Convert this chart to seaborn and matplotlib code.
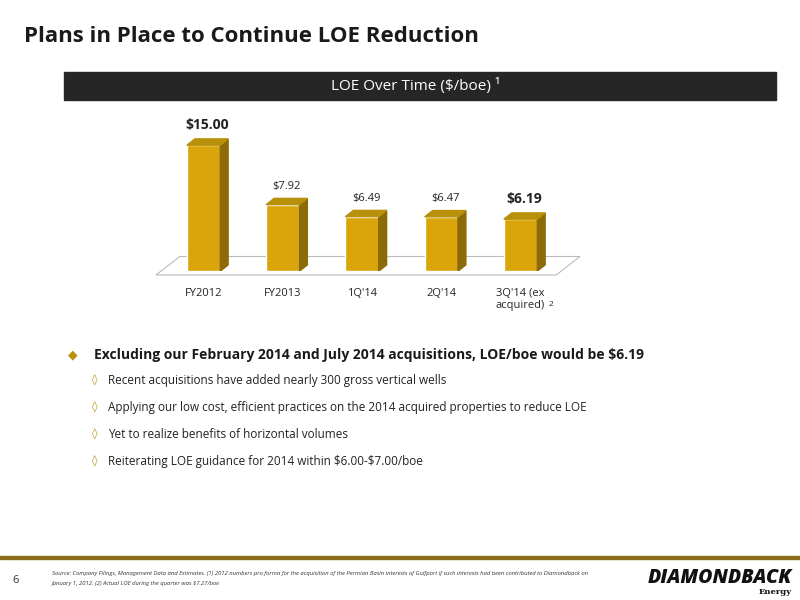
import matplotlib
matplotlib.use("Agg")
import matplotlib.pyplot as plt
import seaborn as sns
import pandas as pd
from matplotlib.patches import Polygon, Rectangle

categories = ["FY2012", "FY2013", "1Q'14", "2Q'14", "3Q'14 (ex\nacquired)"]
values = [15.00, 7.92, 6.49, 6.47, 6.19]
labels = ["$15.00", "$7.92", "$6.49", "$6.47", "$6.19"]

sns.set_theme(style="white")
plt.rcParams['font.family'] = ['Open Sans', 'DejaVu Sans']
plt.rcParams['text.parse_math'] = False
fig = plt.figure(figsize=(8, 6), dpi=100)

fig.text(0.03, 0.94, "Plans in Place to Continue LOE Reduction", fontsize=16, fontweight="bold", color="#1a1a1a", va="center")
fig.add_artist(Rectangle((0.08, 0.833), 0.89, 0.047, color="#262626", transform=fig.transFigure))
fig.text(0.52, 0.856, "LOE Over Time ($/boe) ¹", color="white", fontsize=11, ha="center", va="center")

ax = fig.add_axes([0.195, 0.548, 0.53, 0.245])
df = pd.DataFrame({"cat": categories, "val": values})
sns.barplot(data=df, x="cat", y="val", color="#D9A50B", saturation=1, width=0.42, ax=ax)
ax.set_ylim(0, 17.5)
ax.set_xlim(-0.6, 4.75)
dx, dy = 0.1, 0.75
for p, lab, i in zip(ax.patches, labels, range(5)):
    x0, w, h = p.get_x(), p.get_width(), p.get_height()
    ax.add_patch(Polygon([(x0 + w, 0), (x0 + w + dx, dy), (x0 + w + dx, h + dy), (x0 + w, h)], color="#8C6A05", zorder=3))
    ax.add_patch(Polygon([(x0, h), (x0 + dx, h + dy), (x0 + w + dx, h + dy), (x0 + w, h)], color="#B8900A", zorder=3))
    big = i in (0, 4)
    ax.text(x0 + w / 2 + 0.05, h + dy + 0.8, lab, ha="center", va="bottom",
            fontsize=10 if big else 8, fontweight="bold" if big else "normal", color="#222")
ax.add_patch(Polygon([(-0.6, -0.45), (4.45, -0.45), (4.75, 1.75), (-0.3, 1.75)], facecolor="white", edgecolor="#bbb", lw=0.8, zorder=0, clip_on=False))
ax.set_xlabel(""); ax.set_ylabel("")
ax.set_yticks([])
ax.tick_params(axis="x", labelsize=8, pad=6)
for s in ax.spines.values():
    s.set_visible(False)
fig.text(0.686, 0.49, "2", fontsize=6)

fig.text(0.085, 0.408, "◆", color="#B8900A", fontsize=9, va="center")
fig.text(0.117, 0.408, "Excluding our February 2014 and July 2014 acquisitions, LOE/boe would be $6.19", fontsize=10, fontweight="bold", va="center", color="#1a1a1a")
subs = ["Recent acquisitions have added nearly 300 gross vertical wells",
        "Applying our low cost, efficient practices on the 2014 acquired properties to reduce LOE",
        "Yet to realize benefits of horizontal volumes",
        "Reiterating LOE guidance for 2014 within $6.00-$7.00/boe"]
for k, t in enumerate(subs):
    y = 0.366 - k * 0.045
    fig.text(0.115, y, "◊", color="#B8900A", fontsize=8, va="center", family=["DejaVu Sans"])
    fig.text(0.135, y, t, fontsize=8.5, va="center", color="#222")

fig.add_artist(Rectangle((0.0, 0.068), 1, 0.005, color="#8a6d1a", transform=fig.transFigure))
fig.text(0.015, 0.033, "6", fontsize=8, color="#333", va="center")
fig.text(0.065, 0.045, "Source: Company Filings, Management Data and Estimates. (1) 2012 numbers pro forma for the acquisition of the Permian Basin interests of Gulfport if such interests had been contributed to Diamondback on",
         fontsize=4.2, style="italic", color="#333", va="center")
fig.text(0.065, 0.028, "January 1, 2012. (2) Actual LOE during the quarter was $7.27/boe", fontsize=4.2, style="italic", color="#333", va="center")
fig.text(0.99, 0.037, "DIAMONDBACK", fontsize=14, fontweight="heavy", style="italic", ha="right", va="center", color="#111")
fig.text(0.99, 0.013, "Energy", fontsize=6, fontweight="bold", ha="right", va="center", color="#111", family=["DejaVu Serif"])

fig.savefig("out.png", dpi=100)
